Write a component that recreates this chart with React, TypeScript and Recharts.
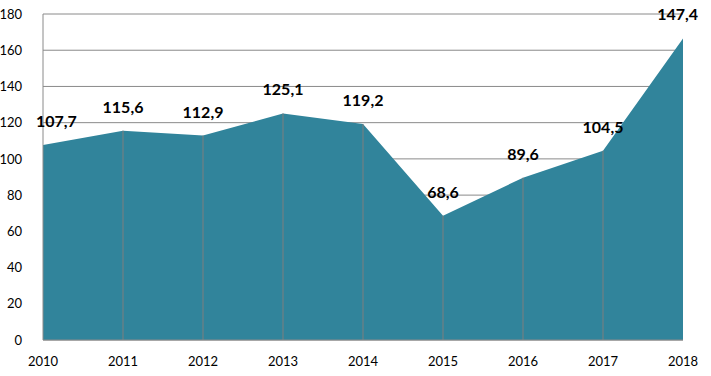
import { AreaChart, Area, XAxis, YAxis, CartesianGrid, ReferenceLine, LabelList } from 'recharts';

const YEARS = ['2010', '2011', '2012', '2013', '2014', '2015', '2016', '2017', '2018'];
// plotted heights (2018 is drawn higher than its label says)
const VALUES = [107.7, 115.6, 112.9, 125.1, 119.2, 68.6, 89.6, 104.5, 166.5];
const LABELS = ['107,7', '115,6', '112,9', '125,1', '119,2', '68,6', '89,6', '104,5', '147,4'];
const Y_TICKS = [0, 20, 40, 60, 80, 100, 120, 140, 160, 180];

const data = YEARS.map((year, i) => ({ year, value: VALUES[i], label: LABELS[i] }));

const FONT = 'Lato, "Open Sans", sans-serif';
const FILL = '#31849B';
const GRID = '#8a8a8a';

const PointLabel = ({ x, y, index }: any) => {
  const last = index === LABELS.length - 1;
  let anchor: 'start' | 'middle' | 'end' = 'middle';
  let dx = 0;
  if (index === 0) {
    anchor = 'start';
    dx = -7;
  } else if (last) {
    anchor = 'end';
    dx = 15;
  }
  return (
    <text
      x={x + dx}
      y={y - 18}
      textAnchor={anchor}
      fill="#000"
      fontSize={16}
      fontWeight={700}
      fontFamily={FONT}
    >
      {LABELS[index]}
    </text>
  );
};

export default function App() {
  return (
    <div style={{ position: 'absolute', left: 0, top: 0, background: '#fff' }}>
      <AreaChart
        width={711}
        height={376}
        data={data}
        margin={{ top: 14, right: 28, left: 0, bottom: 0 }}
      >
        <CartesianGrid vertical={false} stroke={GRID} />
        <XAxis
          dataKey="year"
          height={36}
          axisLine={{ stroke: GRID }}
          tickLine={false}
          tick={{ fill: '#000', fontSize: 13, fontFamily: FONT }}
          tickMargin={11}
          interval={0}
        />
        <YAxis
          type="number"
          domain={[0, 180]}
          ticks={Y_TICKS}
          width={43}
          axisLine={{ stroke: GRID }}
          tickLine={false}
          tick={{ fill: '#000', fontSize: 13, fontFamily: FONT }}
          tickMargin={15}
        />
        <Area
          type="linear"
          dataKey="value"
          stroke="none"
          fill={FILL}
          fillOpacity={1}
          dot={false}
          activeDot={false}
          isAnimationActive={false}
        >
          <LabelList dataKey="label" content={<PointLabel />} />
        </Area>
        {data.slice(1, -1).map((d) => (
          <ReferenceLine
            key={d.year}
            segment={[{ x: d.year, y: 0 }, { x: d.year, y: d.value }]}
            stroke="#7f7f7f"
            ifOverflow="visible"
          />
        ))}
      </AreaChart>
    </div>
  );
}
